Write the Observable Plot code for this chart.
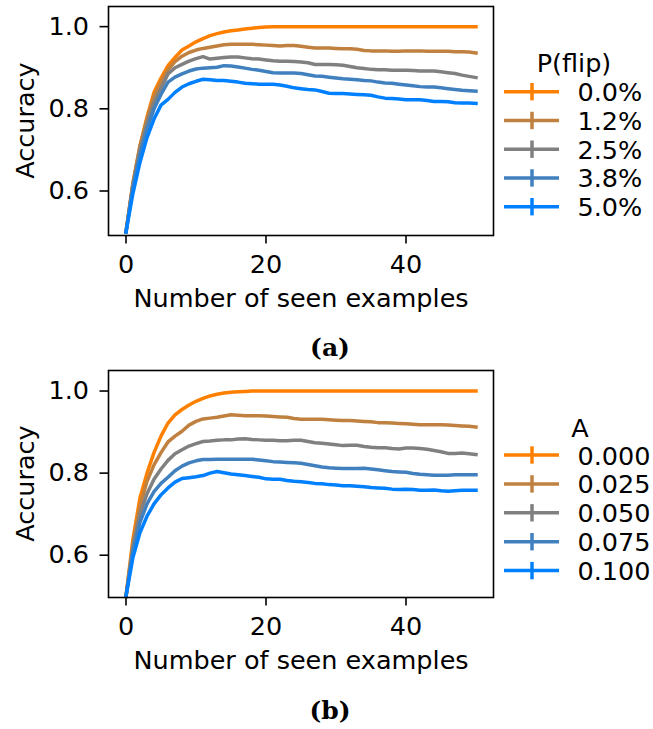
<!DOCTYPE html>
<html>
<head>
<meta charset="utf-8">
<script src="https://cdn.jsdelivr.net/npm/d3@7"></script>
<script src="https://cdn.jsdelivr.net/npm/@observablehq/plot@0.6"></script>
<style>
  html, body { margin: 0; padding: 0; background: white; }
  #root { position: relative; width: 653px; height: 729px; background: white; overflow: hidden; font-family: "DejaVu Sans", sans-serif; }
  .panel { position: absolute; left: 0; }
</style>
</head>
<body>
<div id="root"></div>
<script>
// ---------- data ----------
const steps = d3.range(0, 51);

const colors = ["#ff8000", "#bf8040", "#808080", "#4080bf", "#0080ff"];

const flipLabels = ["0.0%", "1.2%", "2.5%", "3.8%", "5.0%"];
const aLabels = ["0.000", "0.025", "0.050", "0.075", "0.100"];

// Panel (a): P(flip)
const aFlip00 = [0.5,0.62,0.71,0.78,0.84,0.875,0.905,0.925,0.943,0.953,0.963,0.971,0.978,0.983,0.987,0.990,0.992,0.994,0.996,0.998,0.999,
  1.0,1.0,1.0,1.0,1.0,1.0,1.0,1.0,1.0,1.0,1.0,1.0,1.0,1.0,1.0,1.0,1.0,1.0,1.0,1.0,1.0,1.0,1.0,1.0,1.0,1.0,1.0,1.0,1.0,1.0];
const aFlip12 = [0.5,0.62,0.71,0.775,0.83,0.865,0.895,0.915,0.928,0.937,0.943,0.947,0.950,0.953,0.956,0.957,0.957,0.957,0.957,0.956,0.955,
  0.954,0.953,0.954,0.954,0.952,0.950,0.948,0.948,0.948,0.947,0.946,0.946,0.945,0.942,0.941,0.941,0.941,0.940,0.940,0.941,
  0.941,0.941,0.940,0.940,0.940,0.940,0.939,0.939,0.938,0.936];
const aFlip25 = [0.5,0.615,0.70,0.765,0.815,0.85,0.885,0.90,0.908,0.916,0.922,0.927,0.921,0.923,0.925,0.926,0.926,0.924,0.922,0.921,0.919,
  0.917,0.916,0.916,0.915,0.914,0.912,0.908,0.908,0.908,0.907,0.906,0.903,0.900,0.898,0.896,0.895,0.895,0.894,0.894,0.894,
  0.893,0.892,0.892,0.892,0.890,0.888,0.886,0.882,0.879,0.876];
const aFlip38 = [0.5,0.61,0.69,0.75,0.80,0.835,0.865,0.877,0.885,0.892,0.897,0.899,0.900,0.901,0.905,0.904,0.902,0.899,0.896,0.894,0.891,
  0.888,0.887,0.887,0.887,0.886,0.883,0.880,0.879,0.877,0.875,0.873,0.872,0.871,0.869,0.868,0.865,0.863,0.862,0.860,0.858,
  0.856,0.854,0.853,0.853,0.851,0.849,0.847,0.845,0.844,0.843];
const aFlip50 = [0.5,0.595,0.67,0.73,0.775,0.809,0.823,0.840,0.853,0.861,0.867,0.872,0.871,0.869,0.869,0.867,0.865,0.862,0.861,0.860,0.860,
  0.860,0.858,0.855,0.851,0.849,0.847,0.846,0.842,0.838,0.837,0.837,0.836,0.835,0.834,0.833,0.829,0.826,0.825,0.824,0.822,
  0.822,0.822,0.820,0.818,0.818,0.817,0.815,0.814,0.814,0.813];

// Panel (b): A
const bA000 = [0.5,0.64,0.74,0.80,0.85,0.89,0.922,0.942,0.955,0.966,0.975,0.982,0.988,0.992,0.995,0.997,0.998,0.999,
  1.0,1.0,1.0,1.0,1.0,1.0,1.0,1.0,1.0,1.0,1.0,1.0,1.0,1.0,1.0,1.0,1.0,1.0,1.0,1.0,1.0,1.0,1.0,1.0,1.0,1.0,1.0,1.0,1.0,1.0,1.0,1.0,1.0];
const bA025 = [0.5,0.63,0.72,0.78,0.82,0.85,0.876,0.89,0.902,0.917,0.926,0.932,0.934,0.936,0.939,0.942,0.941,0.940,0.940,0.940,0.939,
  0.938,0.937,0.936,0.933,0.931,0.931,0.931,0.931,0.930,0.929,0.928,0.928,0.927,0.926,0.925,0.923,0.923,0.922,0.921,0.920,
  0.919,0.918,0.918,0.918,0.918,0.917,0.916,0.915,0.914,0.912];
const bA050 = [0.5,0.62,0.70,0.75,0.785,0.81,0.831,0.847,0.857,0.866,0.872,0.877,0.878,0.880,0.881,0.881,0.883,0.884,0.882,0.881,0.880,
  0.880,0.879,0.879,0.880,0.880,0.877,0.874,0.873,0.871,0.869,0.867,0.868,0.868,0.865,0.863,0.862,0.862,0.860,0.859,0.861,
  0.861,0.860,0.858,0.855,0.852,0.848,0.848,0.849,0.847,0.845];
const bA075 = [0.5,0.61,0.68,0.725,0.755,0.775,0.79,0.806,0.817,0.825,0.830,0.833,0.833,0.834,0.834,0.834,0.834,0.834,0.834,0.832,0.830,
  0.828,0.827,0.826,0.825,0.824,0.821,0.818,0.815,0.813,0.812,0.811,0.811,0.811,0.812,0.810,0.808,0.806,0.804,0.803,0.802,
  0.799,0.797,0.796,0.795,0.795,0.795,0.796,0.796,0.796,0.796];
const bA100 = [0.5,0.595,0.655,0.695,0.725,0.747,0.764,0.778,0.787,0.789,0.791,0.794,0.800,0.804,0.801,0.798,0.796,0.794,0.792,0.790,0.786,
  0.785,0.785,0.782,0.780,0.779,0.777,0.775,0.774,0.772,0.771,0.769,0.769,0.768,0.767,0.765,0.764,0.763,0.761,0.760,0.761,
  0.760,0.758,0.758,0.759,0.757,0.756,0.757,0.758,0.758,0.758];

const xTicks = [0, 20, 40];
const yTicks = [0.6, 0.8, 1.0];
const xLabel = "Number of seen examples";
const yLabel = "Accuracy";

// ---------- drawing ----------
const FONT = "DejaVu Sans";
const FS = 25.5;
const root = document.getElementById("root");

function tidy(labels, seriesList) {
  const rows = [];
  seriesList.forEach((vals, i) => vals.forEach((v, j) => rows.push({x: steps[j], y: v, k: labels[i]})));
  return rows;
}

function panel(labels, seriesList, yDomain, frameH, top) {
  const data = tidy(labels, seriesList);
  const svg = Plot.plot({
    width: 500,
    height: 6 + frameH + 80,
    marginLeft: 108, marginRight: 7, marginTop: 6, marginBottom: 80,
    style: {fontFamily: FONT, fontSize: FS + "px", color: "black", background: "white", overflow: "visible"},
    x: {domain: [-2.5, 52.5]},
    y: {domain: yDomain},
    color: {domain: labels, range: colors},
    marks: [
      Plot.line(data, {x: "x", y: "y", z: "k", stroke: "k", strokeWidth: 3.5, strokeLinejoin: "round", strokeLinecap: "square"}),
      Plot.frame({stroke: "black", strokeWidth: 1.6}),
      Plot.axisX({ticks: xTicks, tickSize: 8.5, tickPadding: 11, tickFormat: d => String(d), label: null, strokeWidth: 1.6, fontSize: FS}),
      Plot.axisY({ticks: yTicks, tickSize: 8.5, tickPadding: 11, tickFormat: d3.format(".1f"), label: null, strokeWidth: 1.6, fontSize: FS}),
      Plot.text([xLabel], {text: d => d, frameAnchor: "bottom", dy: 63, fontSize: FS, lineAnchor: "middle"})
    ]
  });
  const div = document.createElement("div");
  div.className = "panel";
  div.style.top = top + "px";
  div.appendChild(svg);
  root.appendChild(div);
}

panel(flipLabels, [aFlip00, aFlip12, aFlip25, aFlip38, aFlip50], [0.4917, 1.049], 229, 0);
panel(aLabels, [bA000, bA025, bA050, bA075, bA100], [0.497, 1.050], 227, 364);

// legends, y labels and captions
const overlay = d3.select(root).append("svg")
  .attr("width", 653).attr("height", 729)
  .style("position", "absolute").style("left", "0px").style("top", "0px")
  .style("font-family", FONT).style("font-size", FS + "px");

function yTitle(cy) {
  overlay.append("text")
    .attr("transform", `translate(25,${cy}) rotate(-90)`)
    .attr("text-anchor", "middle").attr("dominant-baseline", "central")
    .text(yLabel);
}
yTitle(120.5);
yTitle(483.5);

function legend(title, labels, titleX, titleY, y0, dy) {
  overlay.append("text").attr("x", titleX).attr("y", titleY)
    .attr("text-anchor", "middle").attr("dominant-baseline", "central").text(title);
  labels.forEach((l, i) => {
    const y = y0 + i * dy;
    const g = overlay.append("g").attr("stroke", colors[i]).attr("stroke-width", 3.5);
    g.append("line").attr("x1", 504).attr("x2", 559).attr("y1", y).attr("y2", y);
    g.append("line").attr("x1", 532).attr("x2", 532).attr("y1", y - 8.7).attr("y2", y + 8.7);
    overlay.append("text").attr("x", 577.5).attr("y", y + 0.5)
      .attr("dominant-baseline", "central").text(l);
  });
}
legend("P(flip)", flipLabels, 574, 63, 91.7, 28.75);
legend("A", aLabels, 580, 428, 455, 28.9);

function caption(t, x, y) {
  overlay.append("text").attr("x", x).attr("y", y)
    .attr("text-anchor", "middle").attr("dominant-baseline", "central")
    .style("font-family", "'DejaVu Serif', serif").style("font-weight", "bold").style("font-size", "25px")
    .text(t);
}
caption("(a)", 330, 347);
caption("(b)", 330, 710);
</script>
</body>
</html>
